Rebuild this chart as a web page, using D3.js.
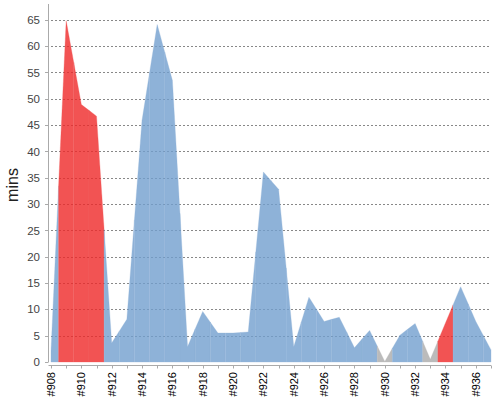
<!DOCTYPE html>
<html>
<head>
<meta charset="utf-8">
<script src="https://cdn.jsdelivr.net/npm/d3@7"></script>
<style>
  html, body { margin: 0; padding: 0; background: #fff; }
  svg { display: block; }
</style>
</head>
<body>
<div id="chart"></div>
<script>
// ---- data ----
const builds = ["#908","#909","#910","#911","#912","#913","#914","#915","#916","#917",
                "#918","#919","#920","#921","#922","#923","#924","#925","#926","#927",
                "#928","#929","#930","#931","#932","#933","#934","#935","#936","#937"];
const durations = [2, 64.8, 48.9, 46.7, 3.6, 8.1, 45.9, 64.1, 53.5, 2.9,
                   9.6, 5.5, 5.5, 5.7, 36.1, 32.8, 2.9, 12.3, 7.7, 8.5,
                   2.7, 6.0, 0.1, 5.1, 7.3, 0.5, 7.4, 14.3, 7.7, 2.3];
const statuses = ["ok","failed","failed","failed","ok","ok","ok","ok","ok","ok",
                  "ok","ok","ok","ok","ok","ok","ok","ok","ok","ok",
                  "ok","ok","aborted","ok","ok","aborted","failed","ok","ok","ok"];
const yTicks = [0, 5, 10, 15, 20, 25, 30, 35, 40, 45, 50, 55, 60, 65];
const xTickLabels = ["#908","#910","#912","#914","#916","#918","#920","#922","#924",
                     "#926","#928","#930","#932","#934","#936"];
const yLabel = "mins";

(function () {
// ---- layout ----
const W = 500, H = 400;
const pLeft = 51, pRight = 491, pTop = 4, pBottom = 362;
const colors = { ok: "#729FCF", failed: "#EF2929", aborted: "#ABABAB" };

const svg = d3.select("#chart").append("svg").attr("width", W).attr("height", H);

const x = d3.scalePoint().domain(builds).range([pLeft, pRight]);
const xi = d3.scaleLinear().domain([0, builds.length - 1]).range([pLeft, pRight]);
const y = d3.scaleLinear().domain([0, 68]).range([pBottom, pTop]);

// gridlines
svg.append("g").selectAll("line").data(yTicks.filter(d => d > 0)).join("line")
  .attr("x1", pLeft).attr("x2", pRight)
  .attr("y1", d => Math.round(y(d)) + 0.5).attr("y2", d => Math.round(y(d)) + 0.5)
  .attr("stroke", "#888").attr("stroke-width", 1).attr("stroke-dasharray", "2,2");

// areas, one segment per build (from mid-point to mid-point)
const n = durations.length;
const segs = durations.map((v, i) => {
  const pts = [];
  if (i > 0) pts.push({ t: i - 0.5, v: (durations[i - 1] + v) / 2 });
  pts.push({ t: i, v: v });
  if (i < n - 1) pts.push({ t: i + 0.5, v: (v + durations[i + 1]) / 2 });
  return { status: statuses[i], pts };
});
const area = d3.area().x(d => xi(d.t)).y0(y(0)).y1(d => y(d.v));
svg.append("g").attr("opacity", 0.8)
  .selectAll("path").data(segs).join("path")
  .attr("d", d => area(d.pts))
  .attr("fill", d => colors[d.status])
  .attr("stroke", d => colors[d.status]).attr("stroke-width", 0.3);

// y axis
const yAxisX = 48.5;
svg.append("line").attr("x1", yAxisX).attr("x2", yAxisX).attr("y1", pTop).attr("y2", pBottom)
  .attr("stroke", "#aaa").attr("stroke-width", 1);
const yt = svg.append("g").selectAll("g").data(yTicks).join("g");
yt.append("line").attr("x1", 45).attr("x2", yAxisX)
  .attr("y1", d => Math.round(y(d)) + 0.5).attr("y2", d => Math.round(y(d)) + 0.5)
  .attr("stroke", "#aaa");
yt.append("text").attr("x", 40).attr("y", d => y(d)).attr("dy", "0.36em")
  .attr("text-anchor", "end")
  .attr("font-family", "Liberation Sans, Arial, sans-serif").attr("font-size", 11.5)
  .attr("fill", "#444").text(d => d);

// x axis
const xAxisY = 365.5;
svg.append("line").attr("x1", yAxisX).attr("x2", pRight).attr("y1", xAxisY).attr("y2", xAxisY)
  .attr("stroke", "#aaa").attr("stroke-width", 1);
svg.append("g").selectAll("line").data(builds).join("line")
  .attr("x1", d => Math.round(x(d)) + 0.5).attr("x2", d => Math.round(x(d)) + 0.5)
  .attr("y1", xAxisY).attr("y2", xAxisY + 3)
  .attr("stroke", "#aaa");
svg.append("g").selectAll("text").data(xTickLabels).join("text")
  .attr("transform", d => `translate(${x(d) + 4},372) rotate(-90)`)
  .attr("text-anchor", "end")
  .attr("font-family", "Liberation Sans, Arial, sans-serif").attr("font-size", 11)
  .attr("fill", "#000").text(d => d);

// y label
svg.append("text").attr("transform", "translate(18,185) rotate(-90)")
  .attr("text-anchor", "middle")
  .attr("font-family", "Liberation Sans, Arial, sans-serif").attr("font-size", 16)
  .attr("fill", "#222").text(yLabel);
})();
</script>
</body>
</html>
